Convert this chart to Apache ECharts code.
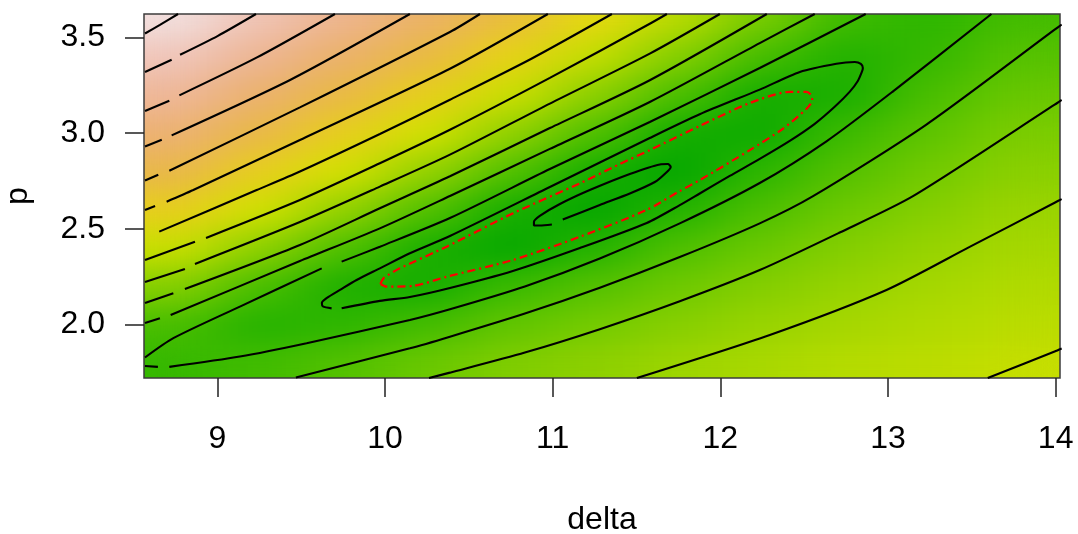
<!DOCTYPE html>
<html>
<head>
<meta charset="utf-8">
<script src="https://cdn.jsdelivr.net/npm/echarts@6/dist/echarts.min.js"></script>
<style>
  html, body { margin: 0; padding: 0; background: #ffffff; }
  #stage { position: relative; width: 1078px; height: 534px; overflow: hidden; }
  #surfaceClip { position: absolute; overflow: hidden; }
  #surface { position: absolute; width: 1078px; height: 534px; filter: url(#soften); }
  #chart { position: absolute; left: 0; top: 0; width: 1078px; height: 534px; }
</style>
</head>
<body>
<svg width="0" height="0" style="position:absolute">
  <!-- smooth the coarse surface cells; alpha is renormalised so edges keep full colour -->
  <filter id="soften" x="0" y="0" width="100%" height="100%" color-interpolation-filters="sRGB">
    <feGaussianBlur stdDeviation="30 14"/>
    <feComponentTransfer>
      <feFuncA type="table" tableValues="0 1 1 1 1 1 1 1 1 1 1 1 1 1 1 1 1 1 1 1"/>
    </feComponentTransfer>
  </filter>
</svg>
<div id="stage">
  <div id="surfaceClip"><div id="surface"></div></div>
  <div id="chart"></div>
</div>
<script>
// ---- axes ----
const deltaRange = [8.562, 14.026];
const pRange = [1.720, 3.622];
const deltaTicks = [9, 10, 11, 12, 13, 14];
const pTicks = [2.0, 2.5, 3.0, 3.5];

// ---- surface, sampled at cell centres (rows follow gridP, bottom to top) ----
const gridDelta = [8.75, 9.25, 9.75, 10.25, 10.75, 11.25, 11.75, 12.25, 12.75, 13.25, 13.75];
const gridP = [1.8, 2.0, 2.2, 2.4, 2.6, 2.8, 3.0, 3.2, 3.4, 3.6];
const surface = [
  [2.90, 3.27, 3.86, 4.53, 5.15, 5.50, 5.93, 6.25, 6.55, 6.70, 6.94],
  [3.53, 2.33, 2.61, 3.33, 4.27, 4.84, 5.35, 5.81, 6.18, 6.42, 6.68],
  [5.31, 3.58, 2.07, 1.77, 3.06, 3.88, 4.65, 5.25, 5.75, 6.14, 6.42],
  [7.04, 5.57, 3.74, 1.95, 1.15, 2.32, 3.71, 4.55, 5.25, 5.76, 6.16],
  [8.56, 7.25, 5.70, 3.86, 1.84, 1.09, 2.26, 3.69, 4.64, 5.30, 5.85],
  [9.88, 8.58, 7.30, 5.72, 3.82, 1.78, 1.05, 2.61, 3.91, 4.78, 5.43],
  [11.01, 9.78, 8.55, 7.26, 5.61, 3.75, 1.69, 1.45, 3.13, 4.17, 5.02],
  [12.08, 10.89, 9.70, 8.51, 7.09, 5.48, 3.62, 1.77, 1.95, 3.54, 4.49],
  [13.02, 11.91, 10.77, 9.63, 8.34, 6.88, 5.29, 3.41, 2.17, 2.90, 3.94],
  [13.94, 12.85, 11.79, 10.66, 9.43, 8.14, 6.64, 4.94, 3.21, 2.60, 3.34]
];
const surfaceMin = 0.93;
const surfaceMax = 14.5;

// ---- contour lines, [delta, p] points, one list of pieces per level ----
const level1 = [
  [[11.060,2.548],[11.281,2.624],[11.460,2.684],[11.609,2.744],[11.668,2.786],[11.704,2.823],[11.687,2.838],[11.639,2.836],[11.460,2.786],[11.221,2.702],[11.043,2.629],[10.923,2.567],[10.888,2.535],[10.888,2.517],[10.923,2.517],[10.995,2.522]]
];
const level2 = [
  [[9.741,2.084],[9.969,2.123],[10.148,2.143],[10.387,2.190],[10.762,2.279],[11.162,2.399],[11.561,2.530],[11.758,2.623],[11.877,2.684],[12.056,2.776],[12.235,2.865],[12.414,2.959],[12.563,3.048],[12.682,3.137],[12.771,3.215],[12.820,3.272],[12.844,3.319],[12.850,3.340],[12.838,3.361],[12.802,3.371],[12.692,3.362],[12.474,3.319],[12.235,3.227],[11.877,3.098],[11.579,2.974],[10.983,2.718],[10.387,2.462],[10.148,2.372],[9.969,2.293],[9.830,2.232],[9.731,2.180],[9.651,2.137],[9.623,2.112],[9.629,2.094],[9.681,2.084]]
];
const level3 = [
  [[8.568,1.827],[8.737,1.928],[9.134,2.093],[9.622,2.293]],
  [[9.741,2.328],[9.969,2.406],[10.387,2.556],[10.983,2.812],[11.579,3.058],[12.235,3.340],[12.867,3.622]],
  [[8.568,1.783],[8.645,1.778]],
  [[8.713,1.778],[9.134,1.832],[9.532,1.902],[10.148,2.023],[10.387,2.079],[10.834,2.198],[11.281,2.344],[11.758,2.528],[12.235,2.739],[12.633,2.957],[13.030,3.218],[13.617,3.622]]
];
const level4 = [
  [[8.568,2.008],[8.657,2.032]],
  [[8.721,2.049],[9.492,2.331],[9.969,2.502],[10.387,2.671],[10.983,2.917],[11.579,3.162],[12.235,3.470],[12.563,3.622]],
  [[9.468,1.723],[10.148,1.875],[10.387,1.936],[10.834,2.057],[11.281,2.192],[11.758,2.352],[12.235,2.528],[12.553,2.670],[13.229,3.044],[13.994,3.540],[14.036,3.567]]
];
const level5 = [
  [[8.568,2.112],[8.737,2.163]],
  [[8.806,2.185],[9.492,2.415],[9.969,2.607],[10.387,2.774],[10.983,3.026],[11.579,3.276],[12.277,3.622]],
  [[10.262,1.720],[10.387,1.748],[10.834,1.853],[11.281,1.975],[11.758,2.121],[12.235,2.284],[12.712,2.480],[13.149,2.670],[13.994,3.148],[14.036,3.173]]
];
const level6 = [
  [[8.568,2.222],[8.806,2.290]],
  [[8.866,2.316],[9.492,2.535],[9.969,2.720],[10.387,2.887],[10.983,3.154],[11.579,3.415],[11.997,3.622]],
  [[11.502,1.720],[12.295,1.945],[12.991,2.180],[13.487,2.405],[13.994,2.636],[14.036,2.655]]
];
const level7 = [
  [[8.568,2.337],[8.866,2.432]],
  [[8.932,2.452],[9.492,2.650],[9.969,2.842],[10.387,3.017],[10.983,3.288],[11.579,3.571],[11.681,3.622]],
  [[13.595,1.720],[13.994,1.858],[14.036,1.874]]
];
const level8 = [
  [[8.653,2.485],[9.234,2.702],[9.492,2.799],[9.969,2.995],[10.387,3.174],[10.870,3.387],[11.353,3.622]]
];
const level9 = [
  [[8.568,2.598],[8.628,2.619]],
  [[8.697,2.641],[8.856,2.702],[9.492,2.964],[10.387,3.336],[10.971,3.622]]
];
const level10 = [
  [[8.568,2.752],[8.647,2.782]],
  [[8.713,2.803],[9.492,3.134],[10.387,3.528],[10.566,3.622]]
];
const level11 = [
  [[8.568,2.930],[8.668,2.965]],
  [[8.727,2.988],[9.439,3.280],[10.148,3.622]]
];
const level12 = [
  [[8.568,3.115],[8.713,3.169]],
  [[8.773,3.197],[9.236,3.395],[9.701,3.622]]
];
const level13 = [
  [[8.568,3.319],[8.727,3.383]],
  [[8.777,3.409],[9.003,3.508],[9.230,3.622]]
];
const level14 = [
  [[8.568,3.520],[8.657,3.565],[8.765,3.622]]
];
// confidence region boundary
const confidenceRegion = [
  [[9.972,2.211],[9.993,2.243],[10.088,2.293],[10.367,2.406],[10.764,2.581],[11.162,2.737],[11.400,2.838],[11.579,2.911],[11.877,3.037],[12.176,3.157],[12.414,3.215],[12.514,3.215],[12.543,3.197],[12.548,3.171],[12.514,3.127],[12.374,3.023],[12.176,2.911],[11.877,2.754],[11.758,2.697],[11.560,2.598],[11.162,2.458],[10.764,2.337],[10.367,2.249],[10.168,2.201],[10.009,2.197],[9.972,2.211]]
];

// ---- terrain palette (green -> yellow -> tan -> near white) ----
function hsvToHex(h, s, v) {
  const c = v * s, hp = h / 60, x = c * (1 - Math.abs((hp % 2) - 1));
  let r = 0, g = 0, b = 0;
  if (hp < 1) { r = c; g = x; } else if (hp < 2) { r = x; g = c; }
  else if (hp < 3) { g = c; b = x; } else if (hp < 4) { g = x; b = c; }
  else if (hp < 5) { r = x; b = c; } else { r = c; b = x; }
  const m = v - c;
  const hex = n => Math.round((n + m) * 255).toString(16).padStart(2, '0');
  return '#' + hex(r) + hex(g) + hex(b);
}
function terrainColor(t) {
  if (t <= 0.5) { const u = t / 0.5; return hsvToHex(120 - 60 * u, 1, 0.65 + 0.25 * u); }
  const u = (t - 0.5) / 0.5;
  return hsvToHex(60 - 60 * u, 1 - u, 0.9 + 0.05 * u);
}
const palette = Array.from({ length: 41 }, (_, i) => terrainColor(i / 40));

// ---- main chart: frame, axes, contour lines ----
const FONT = "'Liberation Sans', Arial, Helvetica, sans-serif";
const lineSeries = [];
function addPieces(pieces, lineStyle) {
  pieces.forEach(piece => lineSeries.push({
    type: 'line', data: piece, showSymbol: false, symbol: 'none',
    smooth: 0.25, silent: true, clip: true, z: 3, lineStyle: lineStyle
  }));
}
const contourStyle = { color: '#000000', width: 2.1 };
[level1, level2, level3, level4, level5, level6, level7, level8, level9, level10, level11, level12, level13, level14]
  .forEach(level => addPieces(level, contourStyle));
addPieces(confidenceRegion, { color: '#ff0000', width: 2.2, type: [8, 4, 2, 4] });

const chart = echarts.init(document.getElementById('chart'), null, { renderer: 'canvas' });
chart.setOption({
  animation: false,
  backgroundColor: 'transparent',
  grid: {
    left: 144, right: 18, top: 14, bottom: 156,
    show: true, borderColor: '#3c3c3c', borderWidth: 1.5, backgroundColor: 'transparent',
    containLabel: false, outerBoundsMode: 'none'
  },
  xAxis: {
    type: 'value', min: deltaRange[0], max: deltaRange[1],
    axisLine: { show: false }, splitLine: { show: false },
    axisTick: { show: true, customValues: deltaTicks, length: 19, lineStyle: { color: '#222', width: 1.5 } },
    axisLabel: { customValues: deltaTicks, fontSize: 32, color: '#000', margin: 45, fontFamily: FONT },
    name: 'delta', nameLocation: 'middle', nameGap: 126,
    nameTextStyle: { fontSize: 32, color: '#000', fontFamily: FONT }
  },
  yAxis: {
    type: 'value', min: pRange[0], max: pRange[1],
    axisLine: { show: false }, splitLine: { show: false },
    axisTick: { show: true, customValues: pTicks, length: 19, lineStyle: { color: '#222', width: 1.5 } },
    axisLabel: { customValues: pTicks, fontSize: 32, color: '#000', margin: 39, fontFamily: FONT,
                 formatter: v => Number(v).toFixed(1) },
    name: 'p', nameLocation: 'middle', nameGap: 110, nameRotate: 90,
    nameTextStyle: { fontSize: 32, color: '#000', fontFamily: FONT }
  },
  series: lineSeries
});

// ---- surface layer, aligned to the main chart's scales ----
const plotTL = chart.convertToPixel({ gridIndex: 0 }, [deltaRange[0], pRange[1]]);
const plotBR = chart.convertToPixel({ gridIndex: 0 }, [deltaRange[1], pRange[0]]);
const clip = document.getElementById('surfaceClip');
clip.style.left = plotTL[0] + 'px';
clip.style.top = plotTL[1] + 'px';
clip.style.width = (plotBR[0] - plotTL[0]) + 'px';
clip.style.height = (plotBR[1] - plotTL[1]) + 'px';
const surfaceEl = document.getElementById('surface');
surfaceEl.style.left = (-plotTL[0]) + 'px';
surfaceEl.style.top = (-plotTL[1]) + 'px';

const halfD = (gridDelta[1] - gridDelta[0]) / 2;
const halfP = (gridP[1] - gridP[0]) / 2;
const cellTL = chart.convertToPixel({ gridIndex: 0 }, [gridDelta[0] - halfD, gridP[gridP.length - 1] + halfP]);
const cellBR = chart.convertToPixel({ gridIndex: 0 }, [gridDelta[gridDelta.length - 1] + halfD, gridP[0] - halfP]);

const cells = [];
surface.forEach((row, j) => row.forEach((v, i) => cells.push([i, j, v])));

const heat = echarts.init(surfaceEl, null, { renderer: 'canvas' });
heat.setOption({
  animation: false,
  grid: {
    left: cellTL[0], top: cellTL[1],
    width: cellBR[0] - cellTL[0], height: cellBR[1] - cellTL[1],
    containLabel: false, outerBoundsMode: 'none'
  },
  xAxis: { type: 'category', data: gridDelta.map(String), show: false },
  yAxis: { type: 'category', data: gridP.map(String), show: false },
  visualMap: { show: false, min: surfaceMin, max: surfaceMax, dimension: 2, inRange: { color: palette } },
  series: [{ type: 'heatmap', data: cells, itemStyle: { borderWidth: 0 }, emphasis: { disabled: true } }]
});
</script>
</body>
</html>
